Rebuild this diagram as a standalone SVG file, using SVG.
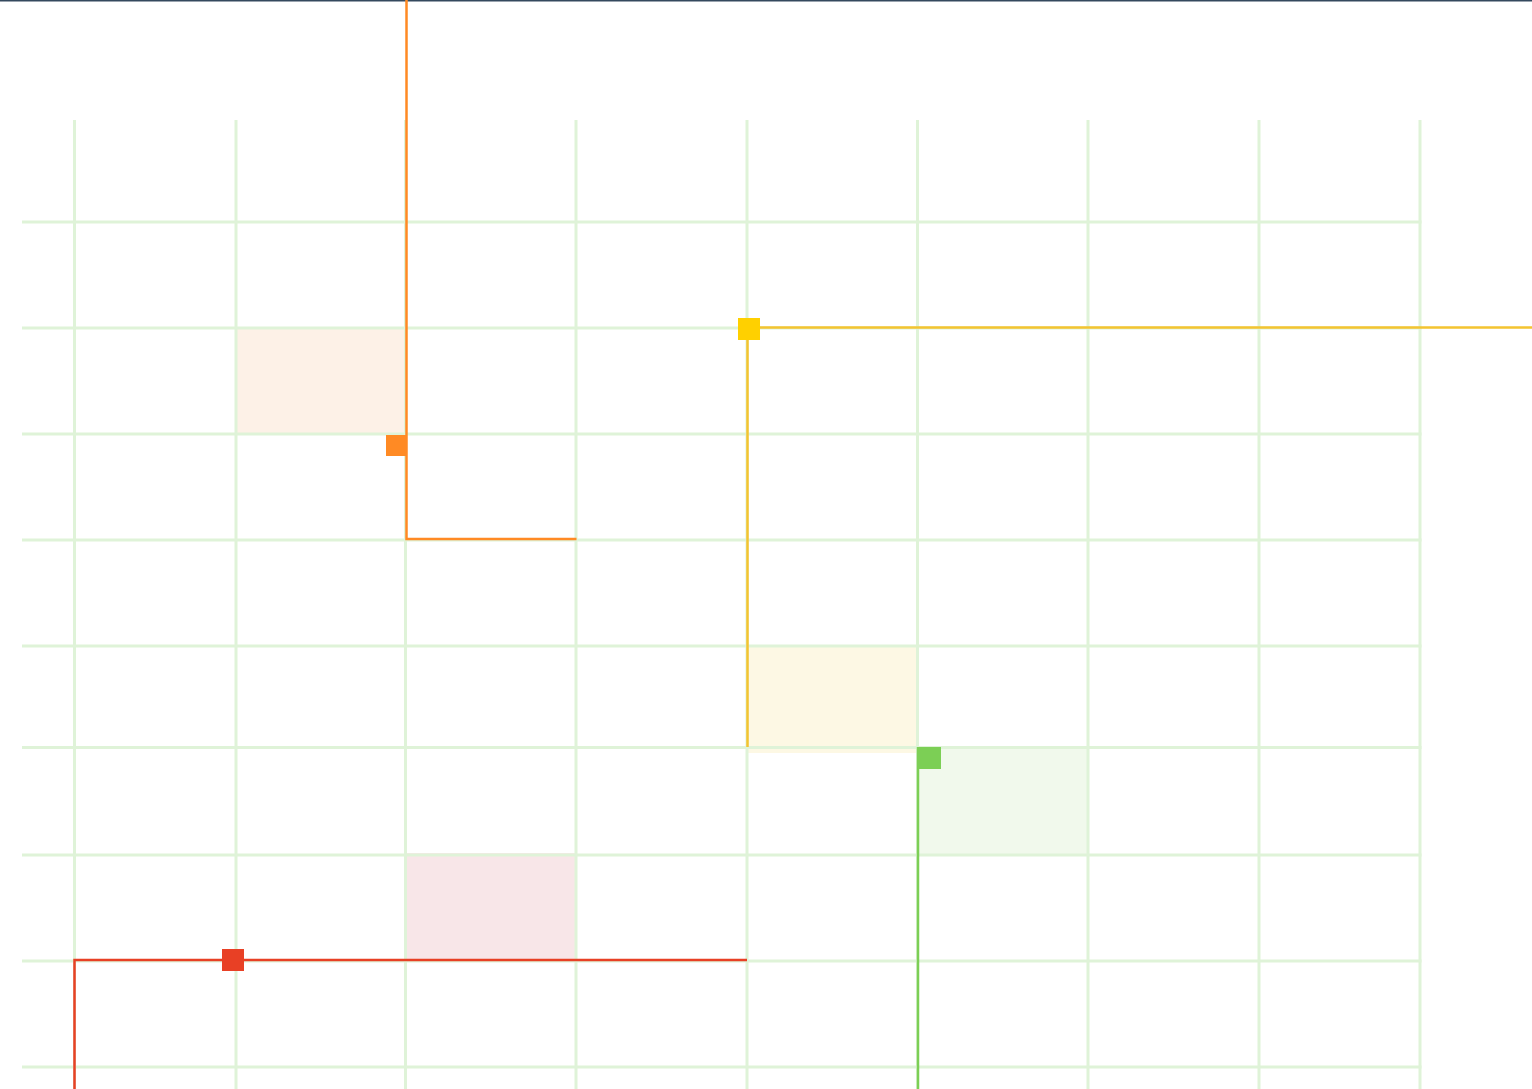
<svg xmlns="http://www.w3.org/2000/svg" width="1532" height="1089" viewBox="0 0 1532 1089">
<style>
.grid line{stroke:#dff3d8;stroke-width:3}
.conn{fill:none;stroke-width:2.5}
</style>
<rect x="0" y="0" width="1532" height="1089" fill="#ffffff"/>
<line x1="0" y1="0.5" x2="1532" y2="0.5" stroke="#34495e" stroke-width="2"/>
<g id="fills">
<rect id="fill-orange" x="236" y="328" width="169" height="106" fill="#fdf1e7"/>
<rect id="fill-yellow" x="747" y="646" width="170" height="107" fill="#fdf8e4"/>
<rect id="fill-green" x="918" y="747" width="170" height="108" fill="#f1f9ec"/>
<rect id="fill-pink" x="406" y="853" width="170" height="107" fill="#f8e6e8"/>
</g>
<g class="grid" id="grid">
<line x1="74.5" y1="120" x2="74.5" y2="1089"/>
<line x1="236" y1="120" x2="236" y2="1089"/>
<line x1="405.5" y1="120" x2="405.5" y2="1089"/>
<line x1="576" y1="120" x2="576" y2="1089"/>
<line x1="747" y1="120" x2="747" y2="1089"/>
<line x1="917.5" y1="120" x2="917.5" y2="1089"/>
<line x1="1088" y1="120" x2="1088" y2="1089"/>
<line x1="1259" y1="120" x2="1259" y2="1089"/>
<line x1="1420" y1="120" x2="1420" y2="1089"/>
<line x1="22" y1="222" x2="1421.5" y2="222"/>
<line x1="22" y1="328" x2="1421.5" y2="328"/>
<line x1="22" y1="434" x2="1421.5" y2="434"/>
<line x1="22" y1="540" x2="1421.5" y2="540"/>
<line x1="22" y1="646" x2="1421.5" y2="646"/>
<line x1="22" y1="747.5" x2="1421.5" y2="747.5"/>
<line x1="22" y1="855" x2="1421.5" y2="855"/>
<line x1="22" y1="961" x2="1421.5" y2="961"/>
<line x1="22" y1="1067" x2="1421.5" y2="1067"/>
</g>
<g id="connectors">
<polyline class="conn" stroke="#ff8a24" points="406.5,0 406.5,539 576.5,539"/>
<polyline class="conn" stroke="#f4c430" points="747.5,747 747.5,327.5 1532,327.5"/>
<polyline class="conn" stroke="#7ccf55" points="918,747 918,1089"/>
<polyline class="conn" stroke="#e84025" points="74.5,1089 74.5,960 747,960"/>
</g>
<g id="node-orange"><rect x="386" y="435" width="21" height="21" fill="#ff8a24"/></g>
<g id="node-yellow"><rect x="738" y="318" width="22" height="22" fill="#ffd000"/></g>
<g id="node-green"><rect x="917" y="747" width="24" height="22" fill="#7ccf55"/></g>
<g id="node-red"><rect x="222" y="949" width="22" height="22" fill="#e84025"/></g>
</svg>
